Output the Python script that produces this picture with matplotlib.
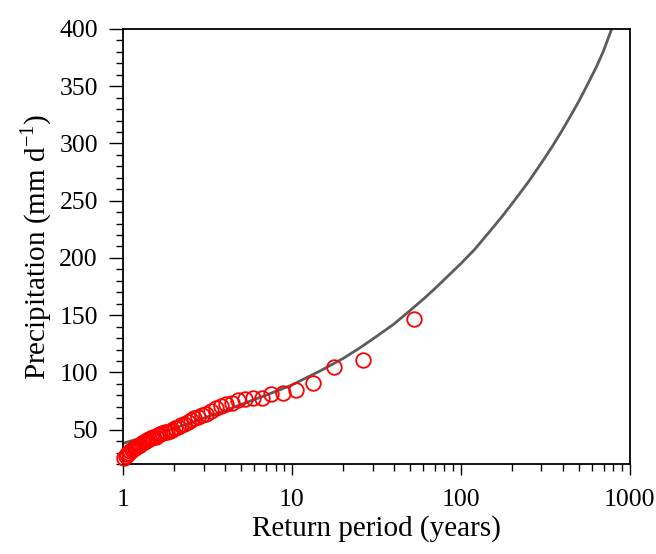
import matplotlib
matplotlib.use("Agg")
import matplotlib.pyplot as plt
from matplotlib.ticker import LogLocator, MultipleLocator, FixedLocator, NullFormatter

plt.rcParams["font.family"] = ["Liberation Serif", "DejaVu Serif"]
plt.rcParams["mathtext.fontset"] = "custom"
plt.rcParams["mathtext.rm"] = "Liberation Serif"

# Observed annual maxima (return period in years, precipitation in mm/d)
obs_period = [53.0, 26.5, 17.67, 13.25, 10.6, 8.83, 7.57, 6.63, 5.89, 5.3,
              4.82, 4.42, 4.08, 3.79, 3.53, 3.31, 3.12, 2.94, 2.79, 2.65,
              2.52, 2.41, 2.30, 2.21, 2.12, 2.04, 1.96, 1.89, 1.83, 1.77,
              1.71, 1.66, 1.61, 1.56, 1.51, 1.47, 1.43, 1.39, 1.36, 1.325,
              1.29, 1.26, 1.23, 1.20, 1.18, 1.15, 1.13, 1.10, 1.08, 1.06,
              1.04, 1.02]
obs_precip = [147, 111, 105, 91, 85, 82, 81, 78, 78, 77,
              76, 73, 72, 71, 69, 66, 64, 63, 61, 60,
              58, 57, 55, 54, 52, 51, 50, 49, 48, 47.5,
              47, 46, 45, 44, 43.5, 43, 42, 41, 40, 39,
              38, 37, 36, 35, 34, 33, 32.5, 31, 30, 29,
              27, 25]

# Fitted return level curve
fit_period = [1.0, 1.2, 1.5, 2, 2.5, 3, 4, 5, 7, 10, 15, 20, 25, 30, 40,
              50, 60, 70, 85, 100, 120, 150, 175, 200, 250, 300, 350, 400,
              450, 500, 560, 635, 700, 790]
fit_precip = [38, 41.5, 46, 51, 56, 60, 66.5, 72, 80, 89, 102, 112, 121, 129,
              142, 154, 164, 173, 185, 195, 207, 224, 236, 247, 266, 283, 298,
              312, 325, 337, 351, 367, 381, 402]

fig = plt.figure(figsize=(6.56, 5.54), dpi=100)
ax = fig.add_axes([0.1875, 0.1625, 0.7725, 0.7852])

ax.plot(fit_period, fit_precip, color="#5c5c5c", lw=2.0, zorder=2,
        solid_joinstyle="round")
ax.plot(obs_period, obs_precip, "o", mfc="none", mec="#ff0000", ms=10.5,
        mew=1.3, zorder=3, clip_on=False)

ax.set_xscale("log")
ax.set_xlim(1, 1000)
ax.set_ylim(20, 400)

ax.xaxis.set_major_locator(FixedLocator([1, 10, 100, 1000]))
ax.xaxis.set_minor_locator(LogLocator(base=10, subs=range(2, 10)))
ax.xaxis.set_minor_formatter(NullFormatter())
ax.set_xticklabels(["1", "10", "100", "1000"])

ax.yaxis.set_major_locator(FixedLocator([50, 100, 150, 200, 250, 300, 350, 400]))
ax.yaxis.set_minor_locator(MultipleLocator(10))

ax.tick_params(which="both", direction="out", top=False, right=False,
               labelsize=18.5, width=1.0, color="black")
ax.tick_params(axis="y", which="major", length=10, pad=8)
ax.tick_params(axis="y", which="minor", length=5)
ax.tick_params(axis="x", which="major", length=8, pad=10)
ax.tick_params(axis="x", which="minor", length=5)

for s in ax.spines.values():
    s.set_linewidth(1.3)

ax.set_xlabel("Return period (years)", fontsize=21, labelpad=3)
ax.set_ylabel(r"Precipitation (mm d$^{\mathregular{-1}}$)", fontsize=21,
              labelpad=4)

fig.savefig("out.png", dpi=100)
